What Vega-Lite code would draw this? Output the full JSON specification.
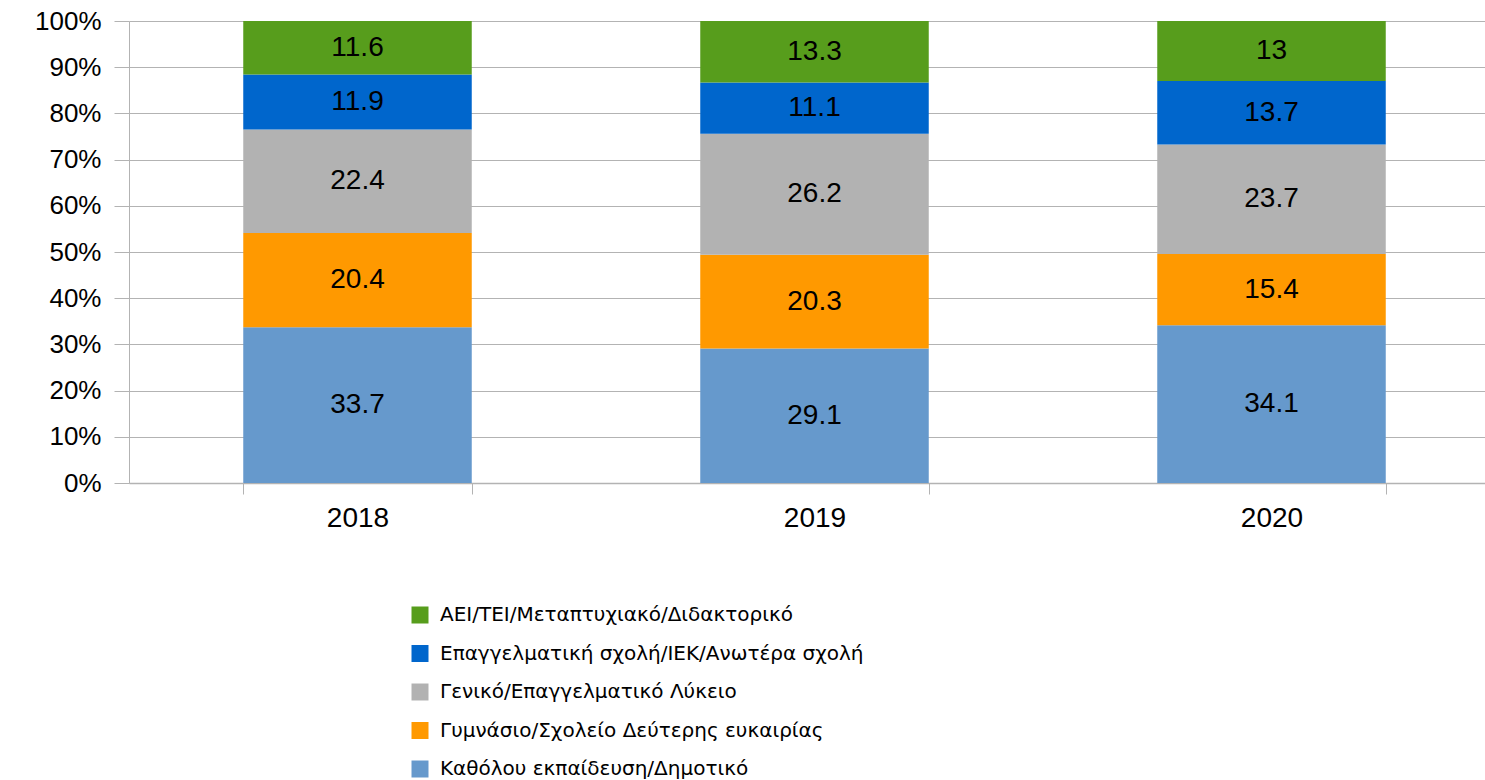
{
  "$schema": "https://vega.github.io/schema/vega-lite/v6.json",
  "width": 1371,
  "height": 462,
  "autosize": {"type": "none"},
  "padding": {"left": 129, "top": 21, "right": 0, "bottom": 297},
  "background": "white",
  "config": {"view": {"stroke": null}, "font": "Liberation Sans"},
  "data": {
    "values": [
      {"year": "2018", "level": "Καθόλου εκπαίδευση/Δημοτικό", "order": 1, "value": 33.7},
      {"year": "2018", "level": "Γυμνάσιο/Σχολείο Δεύτερης ευκαιρίας", "order": 2, "value": 20.4},
      {"year": "2018", "level": "Γενικό/Επαγγελματικό Λύκειο", "order": 3, "value": 22.4},
      {"year": "2018", "level": "Επαγγελματική σχολή/ΙΕΚ/Ανωτέρα σχολή", "order": 4, "value": 11.9},
      {"year": "2018", "level": "ΑΕΙ/ΤΕΙ/Μεταπτυχιακό/Διδακτορικό", "order": 5, "value": 11.6},
      {"year": "2019", "level": "Καθόλου εκπαίδευση/Δημοτικό", "order": 1, "value": 29.1},
      {"year": "2019", "level": "Γυμνάσιο/Σχολείο Δεύτερης ευκαιρίας", "order": 2, "value": 20.3},
      {"year": "2019", "level": "Γενικό/Επαγγελματικό Λύκειο", "order": 3, "value": 26.2},
      {"year": "2019", "level": "Επαγγελματική σχολή/ΙΕΚ/Ανωτέρα σχολή", "order": 4, "value": 11.1},
      {"year": "2019", "level": "ΑΕΙ/ΤΕΙ/Μεταπτυχιακό/Διδακτορικό", "order": 5, "value": 13.3},
      {"year": "2020", "level": "Καθόλου εκπαίδευση/Δημοτικό", "order": 1, "value": 34.1},
      {"year": "2020", "level": "Γυμνάσιο/Σχολείο Δεύτερης ευκαιρίας", "order": 2, "value": 15.4},
      {"year": "2020", "level": "Γενικό/Επαγγελματικό Λύκειο", "order": 3, "value": 23.7},
      {"year": "2020", "level": "Επαγγελματική σχολή/ΙΕΚ/Ανωτέρα σχολή", "order": 4, "value": 13.7},
      {"year": "2020", "level": "ΑΕΙ/ΤΕΙ/Μεταπτυχιακό/Διδακτορικό", "order": 5, "value": 13}
    ]
  },
  "transform": [
    {"stack": "value", "groupby": ["year"], "sort": [{"field": "order", "order": "ascending"}], "offset": "normalize", "as": ["y0", "y1"]},
    {"calculate": "(datum.y0 + datum.y1) / 2", "as": "ymid"}
  ],
  "encoding": {
    "x": {
      "field": "year",
      "type": "nominal",
      "scale": {"paddingInner": 0.5, "paddingOuter": 0.25},
      "axis": {
        "title": null,
        "labelAngle": 0,
        "tickBand": "extent",
        "tickSize": 11,
        "tickColor": "#b3b3b3",
        "domainColor": "#b3b3b3",
        "domainWidth": 1.5,
        "labelFontSize": 28,
        "labelFont": "Liberation Sans",
        "labelColor": "#000000",
        "labelPadding": 10,
        "grid": false
      }
    }
  },
  "layer": [
    {
      "mark": {"type": "bar"},
      "encoding": {
        "y": {
          "field": "y0",
          "type": "quantitative",
          "scale": {"domain": [0, 1], "nice": false},
          "axis": {
            "title": null,
            "values": [0, 0.1, 0.2, 0.3, 0.4, 0.5, 0.6, 0.7, 0.8, 0.9, 1],
            "format": ".0%",
            "labelFontSize": 26,
            "labelFont": "Liberation Sans",
            "labelColor": "#000000",
            "labelPadding": 13,
            "tickSize": 15,
            "tickColor": "#b3b3b3",
            "domainColor": "#b3b3b3",
            "grid": true,
            "gridColor": "#b3b3b3",
            "gridWidth": 1
          }
        },
        "y2": {"field": "y1"},
        "color": {
          "field": "level",
          "type": "nominal",
          "scale": {
            "domain": [
              "ΑΕΙ/ΤΕΙ/Μεταπτυχιακό/Διδακτορικό",
              "Επαγγελματική σχολή/ΙΕΚ/Ανωτέρα σχολή",
              "Γενικό/Επαγγελματικό Λύκειο",
              "Γυμνάσιο/Σχολείο Δεύτερης ευκαιρίας",
              "Καθόλου εκπαίδευση/Δημοτικό"
            ],
            "range": ["#579D1C", "#0066CC", "#B2B2B2", "#FF9900", "#6699CC"]
          },
          "legend": {
            "title": null,
            "orient": "none",
            "legendX": 281,
            "legendY": 584,
            "direction": "vertical",
            "symbolType": "square",
            "symbolSize": 289,
            "symbolStrokeWidth": 0,
            "labelFont": "DejaVu Sans",
            "labelFontSize": 20,
            "labelColor": "#000000",
            "labelLimit": 1000,
            "labelOffset": 10,
            "rowPadding": 18.5
          }
        }
      }
    },
    {
      "mark": {"type": "text", "fontSize": 28, "font": "Liberation Sans", "color": "#000000", "baseline": "middle", "align": "center"},
      "encoding": {
        "y": {"field": "ymid", "type": "quantitative"},
        "text": {"field": "value", "type": "nominal"}
      }
    }
  ]
}
